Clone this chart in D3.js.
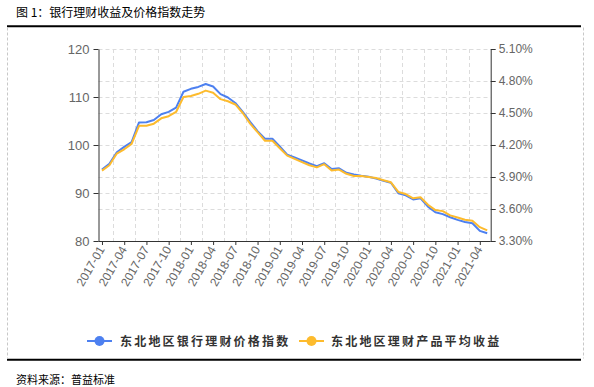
<!DOCTYPE html>
<html>
<head>
<meta charset="utf-8">
<script src="https://cdn.jsdelivr.net/npm/d3@7/dist/d3.min.js"></script>
<style>
  html, body { margin: 0; padding: 0; background: #fff; }
  svg { display: block; }
</style>
</head>
<body>
<svg id="chart" width="594" height="387"></svg>
<script>
const months = [
  "2017-01","2017-02","2017-03","2017-04","2017-05","2017-06","2017-07","2017-08","2017-09","2017-10","2017-11","2017-12",
  "2018-01","2018-02","2018-03","2018-04","2018-05","2018-06","2018-07","2018-08","2018-09","2018-10","2018-11","2018-12",
  "2019-01","2019-02","2019-03","2019-04","2019-05","2019-06","2019-07","2019-08","2019-09","2019-10","2019-11","2019-12",
  "2020-01","2020-02","2020-03","2020-04","2020-05","2020-06","2020-07","2020-08","2020-09","2020-10","2020-11","2020-12",
  "2021-01","2021-02","2021-03","2021-04","2021-05"
];
const tickMonths = ["2017-01","2017-04","2017-07","2017-10","2018-01","2018-04","2018-07","2018-10",
  "2019-01","2019-04","2019-07","2019-10","2020-01","2020-04","2020-07","2020-10","2021-01","2021-04"];

// 东北地区银行理财价格指数 (left axis)
const priceIndex = [
  94.9, 96.1, 98.5, 99.6, 100.6, 104.7, 104.75, 105.2, 106.4, 106.9, 107.8, 111.1,
  111.7, 112.1, 112.7, 112.2, 110.6, 109.9, 108.75, 106.9, 104.8, 102.9, 101.3, 101.3,
  99.7, 98.0, 97.4, 96.8, 96.15, 95.6, 96.2, 95.0, 95.15, 94.2, 93.85, 93.6,
  93.4, 93.0, 92.55, 92.15, 89.95, 89.5, 88.65, 88.9, 87.15, 86.0, 85.6, 84.95,
  84.4, 83.95, 83.7, 82.1, 81.6
];
// 东北地区理财产品平均收益 (right axis, %)
const avgYield = [
  3.96, 4.01, 4.12, 4.16, 4.21, 4.38, 4.38, 4.40, 4.45, 4.47, 4.51, 4.65,
  4.66, 4.68, 4.71, 4.69, 4.63, 4.61, 4.58, 4.50, 4.40, 4.32, 4.24, 4.24,
  4.17, 4.10, 4.07, 4.04, 4.01, 3.99, 4.02, 3.96, 3.97, 3.93, 3.91, 3.91,
  3.90, 3.89, 3.87, 3.85, 3.76, 3.74, 3.70, 3.71, 3.64, 3.59, 3.58, 3.54,
  3.52, 3.50, 3.49, 3.43, 3.40
];
const leftTicks = [80, 90, 100, 110, 120];
const rightTicks = [3.3, 3.6, 3.9, 4.2, 4.5, 4.8, 5.1];
const seriesNames = ["东北地区银行理财价格指数", "东北地区理财产品平均收益"];
const title = "图 1：银行理财收益及价格指数走势";
const source = "资料来源：普益标准";

const colors = ["#4D80F0", "#FDBB2D"];
const numFont = "'Liberation Sans', Arial, sans-serif";
const cjkFont = "'Noto Sans CJK SC', sans-serif";

const svg = d3.select("#chart");
const plot = { left: 98.5, right: 490.7, top: 49, bottom: 241 };

const x = d3.scalePoint().domain(months).range([plot.left, plot.right]).padding(0.47);
const yL = d3.scaleLinear().domain([80, 120]).range([plot.bottom, plot.top]);
const yR = d3.scaleLinear().domain([3.3, 5.1]).range([plot.bottom, plot.top]);

// Frame
svg.append("line").attr("x1", 7).attr("x2", 581).attr("y1", 26.3).attr("y2", 26.3)
  .attr("stroke", "#000").attr("stroke-width", 2);
svg.append("line").attr("x1", 7).attr("x2", 581).attr("y1", 359.7).attr("y2", 359.7)
  .attr("stroke", "#000").attr("stroke-width", 2);
[7.5, 583.5].forEach(xx => {
  svg.append("line").attr("x1", xx).attr("x2", xx).attr("y1", 27.5).attr("y2", 358.5)
    .attr("stroke", "#c8c8c8").attr("stroke-width", 1).attr("stroke-dasharray", "3,2");
});

// Title & source
svg.append("text").attr("x", 16).attr("y", 17).attr("font-family", cjkFont)
  .attr("font-size", 12).attr("fill", "#000").text(title);
svg.append("text").attr("x", 16).attr("y", 383.5).attr("font-family", cjkFont)
  .attr("font-size", 11).attr("fill", "#000").text(source);

// Grid
const grid = svg.append("g").attr("stroke", "#dcdcdc").attr("stroke-width", 1).attr("stroke-dasharray", "4,3");
const hVals = new Set();
leftTicks.forEach(v => hVals.add(Math.round(yL(v) * 10) / 10));
rightTicks.forEach(v => hVals.add(Math.round(yR(v) * 10) / 10));
[...hVals].filter(y => y < plot.bottom - 0.5).forEach(y => {
  grid.append("line").attr("x1", plot.left).attr("x2", plot.right)
    .attr("y1", Math.round(y) + 0.5).attr("y2", Math.round(y) + 0.5);
});
for (let k = 1; k + 1 < months.length; k += 3) {
  const xx = (x(months[k]) + x(months[k + 1])) / 2;
  grid.append("line").attr("x1", Math.round(xx) + 0.5).attr("x2", Math.round(xx) + 0.5)
    .attr("y1", plot.top).attr("y2", plot.bottom);
}

// Axes
function styleAxis(g, fontSize) {
  g.selectAll("path").attr("stroke", "#333").attr("stroke-width", 1);
  g.selectAll("line").attr("stroke", "#333");
  g.selectAll("text").attr("fill", "#666").attr("font-family", numFont).attr("font-size", fontSize);
}
const axL = svg.append("g").attr("transform", `translate(${plot.left},0)`)
  .call(d3.axisLeft(yL).tickValues(leftTicks).tickSize(5).tickSizeOuter(0).tickPadding(4));
styleAxis(axL, 13);
const axR = svg.append("g").attr("transform", `translate(${plot.right},0)`)
  .call(d3.axisRight(yR).tickValues(rightTicks).tickSize(5).tickSizeOuter(0).tickPadding(3)
    .tickFormat(d => d.toFixed(2) + "%"));
styleAxis(axR, 12);
const axB = svg.append("g").attr("transform", `translate(0,${plot.bottom})`)
  .call(d3.axisBottom(x).tickValues(tickMonths).tickSize(4).tickSizeOuter(0));
axB.select("path.domain").attr("d", `M${plot.left},0.5H${plot.right}`);
styleAxis(axB, 12);
axB.selectAll(".tick text")
  .attr("text-anchor", "end")
  .attr("dy", "0.35em")
  .attr("transform", "translate(-1,6) rotate(-60)")
  .attr("y", 0).attr("x", 0);

// Lines
const lineL = d3.line().x((d, i) => x(months[i])).y(d => yL(d));
const lineR = d3.line().x((d, i) => x(months[i])).y(d => yR(d));
svg.append("path").datum(priceIndex).attr("d", lineL).attr("fill", "none")
  .attr("stroke", colors[0]).attr("stroke-width", 2).attr("stroke-linejoin", "round");
svg.append("path").datum(avgYield).attr("d", lineR).attr("fill", "none")
  .attr("stroke", colors[1]).attr("stroke-width", 2).attr("stroke-linejoin", "round");

// Legend
const legendItems = [
  { x: 87, tx: 120 },
  { x: 299, tx: 331 }
];
legendItems.forEach((it, i) => {
  const g = svg.append("g");
  g.append("line").attr("x1", it.x).attr("x2", it.x + 25).attr("y1", 341).attr("y2", 341)
    .attr("stroke", colors[i]).attr("stroke-width", 2);
  g.append("circle").attr("cx", it.x + 12.5).attr("cy", 341).attr("r", 5).attr("fill", colors[i]);
  g.append("text").attr("x", it.tx).attr("y", 345.5).attr("font-family", cjkFont)
    .attr("font-size", 12).attr("font-weight", "bold").attr("letter-spacing", "2.2px")
    .attr("fill", "#333").text(seriesNames[i]);
});
</script>
</body>
</html>
